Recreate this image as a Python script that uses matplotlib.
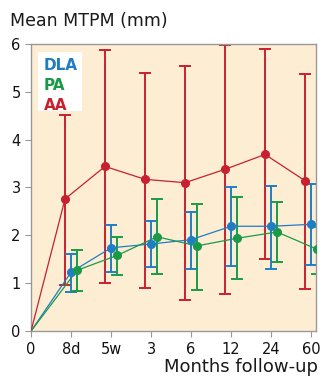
import matplotlib
matplotlib.use("Agg")
import matplotlib.pyplot as plt
import numpy as np

# x categories (positions 0..7)
tick_labels = ["0", "8d", "5w", "3", "6", "12", "24", "60"]

# values at 8d..60 (the origin point 0,0 is added separately)
aa_mean = [2.76, 3.44, 3.17, 3.10, 3.38, 3.69, 3.14]
aa_upper = [4.52, 5.88, 5.40, 5.53, 5.98, 5.89, 5.36]
aa_lower = [0.97, 1.00, 0.91, 0.65, 0.78, 1.51, 0.87]

dla_mean = [1.23, 1.74, 1.82, 1.91, 2.19, 2.19, 2.23]
dla_upper = [1.62, 2.22, 2.31, 2.49, 3.01, 3.04, 3.08]
dla_lower = [0.82, 1.23, 1.33, 1.30, 1.36, 1.30, 1.38]

pa_mean = [1.27, 1.58, 1.97, 1.78, 1.94, 2.07, 1.71]
pa_upper = [1.69, 1.96, 2.77, 2.66, 2.80, 2.69, 2.18]
pa_lower = [0.84, 1.17, 1.19, 0.86, 1.09, 1.44, 1.19]

series = [
    ("AA", aa_mean, aa_lower, aa_upper, "#c8202f", -0.15),
    ("DLA", dla_mean, dla_lower, dla_upper, "#1f7dc4", 0.0),
    ("PA", pa_mean, pa_lower, pa_upper, "#1a9a48", 0.15),
]

fig = plt.figure(figsize=(3.23, 3.78), dpi=100)
ax = fig.add_axes([0.096, 0.124, 0.882, 0.76])
ax.set_facecolor("#fdeed3")

for name, mean, lo, hi, color, off in series:
    xs = np.arange(1, len(mean) + 1) + off
    m = np.array(mean)
    yerr = [m - np.array(lo), np.array(hi) - m]
    ax.errorbar(xs, m, yerr=yerr, fmt="none", ecolor=color, elinewidth=1.4,
                capsize=4, capthick=1.4, zorder=2)
    ax.plot(np.concatenate([[0], xs]), np.concatenate([[0], m]), color=color,
            lw=0.9, zorder=3)
    ax.plot(xs, m, "o", color=color, ms=5.5, zorder=4)

ax.set_xlim(0, 7.12)
ax.set_ylim(0, 6)
ax.set_xticks(range(len(tick_labels)))
ax.set_xticklabels(tick_labels)
ax.set_yticks(range(7))
for s in ax.spines.values():
    s.set_color("#999999")
    s.set_linewidth(1.0)
ax.tick_params(colors="#999999", labelcolor="#111111", labelsize=10.5, length=4)

fig.text(0.03, 0.945, "Mean MTPM (mm)", fontsize=12.5, color="#1a1a1a", va="center")
fig.text(0.985, 0.028, "Months follow-up", fontsize=13, color="#1a1a1a", ha="right", va="center")

# legend box
ax.add_patch(plt.Rectangle((0.025, 0.765), 0.155, 0.205, transform=ax.transAxes,
                           facecolor="white", edgecolor="none", zorder=5))
for i, (name, color) in enumerate([("DLA", "#1f7dc4"), ("PA", "#1a9a48"), ("AA", "#c8202f")]):
    ax.text(0.045, 0.925 - i * 0.07, name, transform=ax.transAxes, color=color,
            fontsize=11, fontweight="bold", va="center", zorder=6)

fig.savefig("out.png", dpi=100)
